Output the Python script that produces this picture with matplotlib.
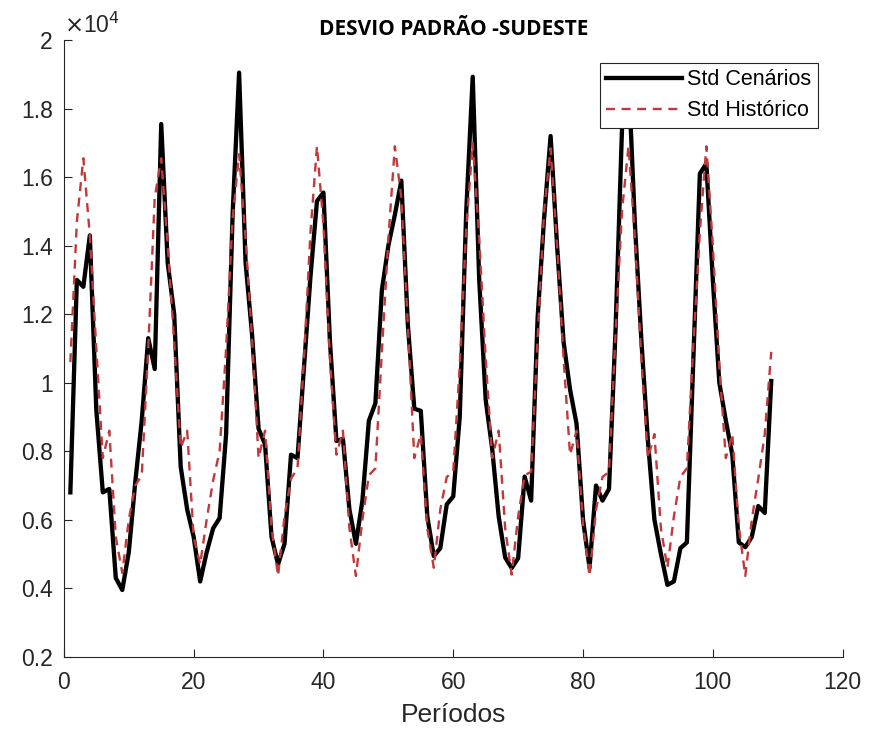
import numpy as np
import matplotlib
matplotlib.use('Agg')
import matplotlib.pyplot as plt
from matplotlib.ticker import FuncFormatter

# values, in units of 10^4
periodos = list(range(1, 110))

std_cenarios = [
    0.68, 1.30, 1.28, 1.43, 0.92, 0.68, 0.69, 0.43, 0.395, 0.505, 0.71, 0.89,
    1.13, 1.04, 1.755, 1.35, 1.20, 0.755, 0.63, 0.55, 0.42, 0.505, 0.575, 0.605,
    0.85, 1.49, 1.905, 1.35, 1.14, 0.866, 0.82, 0.55, 0.47, 0.53, 0.79, 0.78,
    1.045, 1.31, 1.53, 1.555, 1.12, 0.83, 0.836, 0.63, 0.53, 0.656, 0.889, 0.94,
    1.27, 1.40, 1.49, 1.59, 1.17, 0.924, 0.918, 0.61, 0.494, 0.517, 0.645, 0.668,
    0.90, 1.50, 1.893, 1.30, 0.95, 0.807, 0.61, 0.49, 0.459, 0.488, 0.726, 0.656,
    1.19, 1.48, 1.72, 1.40, 1.12, 0.98, 0.88, 0.60, 0.46, 0.70, 0.656, 0.69,
    1.15, 1.74, 1.90, 1.46, 1.12, 0.83, 0.60, 0.50, 0.41, 0.42, 0.517, 0.534,
    1.07, 1.61, 1.64, 1.30, 1.00, 0.89, 0.79, 0.534, 0.52, 0.55, 0.64, 0.62,
    1.005,
]

std_historico = [
    1.06, 1.47, 1.655, 1.43, 1.10, 0.78, 0.86, 0.55, 0.445, 0.60, 0.70, 0.73,
    1.10, 1.54, 1.655, 1.40, 1.12, 0.81, 0.86, 0.55, 0.47, 0.60, 0.715, 0.80,
    1.10, 1.48, 1.667, 1.42, 1.13, 0.78, 0.86, 0.575, 0.436, 0.61, 0.72, 0.75,
    1.07, 1.44, 1.69, 1.46, 1.07, 0.79, 0.86, 0.575, 0.436, 0.60, 0.73, 0.75,
    1.09, 1.42, 1.69, 1.54, 1.17, 0.78, 0.85, 0.575, 0.46, 0.63, 0.725, 0.74,
    1.05, 1.45, 1.70, 1.42, 1.07, 0.78, 0.86, 0.575, 0.44, 0.61, 0.73, 0.74,
    1.13, 1.50, 1.684, 1.40, 1.07, 0.79, 0.86, 0.587, 0.436, 0.63, 0.725, 0.74,
    1.14, 1.50, 1.69, 1.42, 1.07, 0.78, 0.85, 0.575, 0.46, 0.61, 0.725, 0.75,
    1.11, 1.44, 1.69, 1.40, 1.05, 0.78, 0.85, 0.58, 0.436, 0.60, 0.72, 0.85,
    1.09,
]

plt.rcParams['font.family'] = ['Liberation Sans', 'DejaVu Sans']

fig = plt.figure(figsize=(8.75, 7.29), dpi=100)
ax = fig.add_axes([0.073, 0.099, 0.89, 0.846])

ax.plot(periodos, std_cenarios, color='black', lw=3.1, label='Std Cenários')
ax.plot(periodos, std_historico, color='#c0393b', lw=1.7, ls=(0, (3.8, 2.8)),
        label='Std Histórico')

ax.set_xlim(0, 120)
ax.set_ylim(0.2, 2.0)
ax.set_xticks(np.arange(0, 121, 20))
ax.set_yticks(np.arange(0.2, 2.01, 0.2))
ax.yaxis.set_major_formatter(FuncFormatter(lambda v, p: '%g' % round(v, 1)))

gray = '#262626'
for s in ['top', 'right']:
    ax.spines[s].set_visible(False)
for s in ['left', 'bottom']:
    ax.spines[s].set_color(gray)
    ax.spines[s].set_linewidth(0.8)
ax.tick_params(direction='in', length=6, width=0.8, colors=gray,
               labelsize=16.5)
ax.tick_params(axis='y', pad=8)
ax.tick_params(axis='x', pad=10)

ax.text(0.0, 1.004, r'$\times$10$^{4}$', transform=ax.transAxes, fontsize=16.5,
        color=gray, ha='left', va='bottom')

ax.set_title('DESVIO PADRÃO -SUDESTE', fontsize=15, fontweight='bold',
             family='Open Sans', pad=4)
ax.set_xlabel('Períodos', fontsize=19, color=gray, labelpad=7)

leg = ax.legend(loc='upper right', bbox_to_anchor=(0.968, 0.963), fontsize=15.5,
                fancybox=False, framealpha=1, edgecolor=gray,
                handlelength=3.5, borderpad=0.3, labelspacing=0.45,
                handletextpad=0.25, borderaxespad=0)
leg.get_frame().set_linewidth(0.8)

fig.savefig('out.png', dpi=100)
